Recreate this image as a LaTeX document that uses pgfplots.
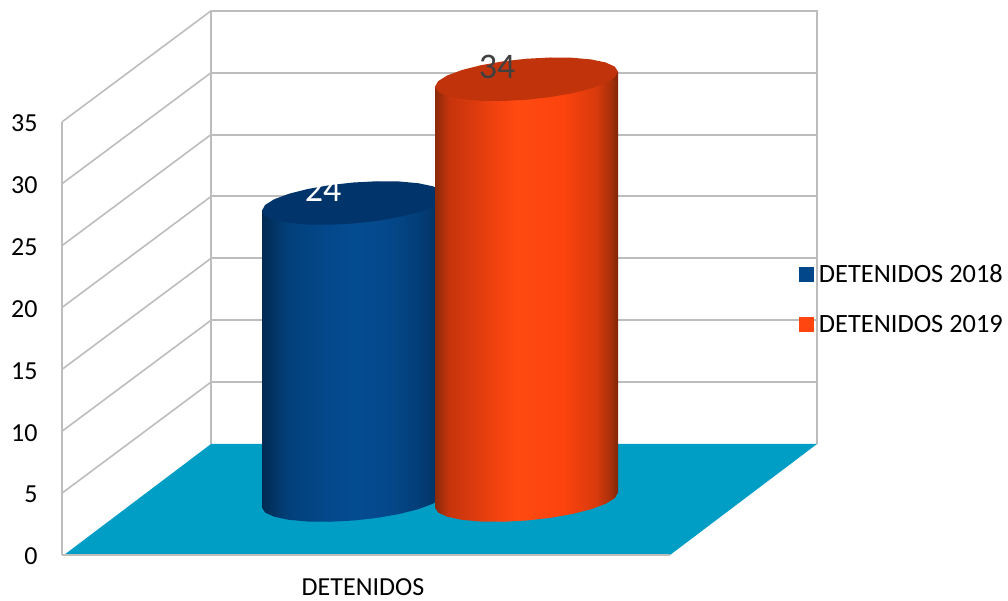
\documentclass[border=0pt]{standalone}
\usepackage{pgfplots}
\pgfplotsset{compat=1.18}
\usepackage{pgfplotstable}
\usepackage{fontspec}
\setmainfont{Carlito}
\definecolor{gridc}{HTML}{BDBDBD}
\definecolor{floorc}{HTML}{009DC4}
\definecolor{blueleg}{HTML}{03478B}
\definecolor{orangeleg}{HTML}{FF4510}
\definecolor{bluetop}{HTML}{01346A}
\definecolor{orangetop}{HTML}{C1340B}
\definecolor{labeldark}{HTML}{404040}
\definecolor{b0}{HTML}{012A52}\definecolor{b1}{HTML}{02407A}\definecolor{b2}{HTML}{03488A}
\definecolor{b3}{HTML}{044C90}\definecolor{b4}{HTML}{04488A}\definecolor{b5}{HTML}{033E78}\definecolor{b6}{HTML}{01305E}
\definecolor{o0}{HTML}{8A2A0A}\definecolor{o1}{HTML}{C8340C}\definecolor{o2}{HTML}{D93A0E}
\definecolor{o3}{HTML}{F5430F}\definecolor{o4}{HTML}{FF4A12}\definecolor{o5}{HTML}{FC430E}
\definecolor{o6}{HTML}{D83A0C}\definecolor{o7}{HTML}{A8300A}\definecolor{o8}{HTML}{7E2608}
\pgfdeclarehorizontalshading{cylb}{100bp}{color(0bp)=(b0);color(25bp)=(b0);color(32bp)=(b1);color(42.5bp)=(b2);color(50bp)=(b3);color(60bp)=(b4);color(67.5bp)=(b5);color(75bp)=(b6);color(100bp)=(b6)}
\pgfdeclarehorizontalshading{cylo}{100bp}{color(0bp)=(o0);color(25bp)=(o0);color(29bp)=(o1);color(35bp)=(o2);color(42.5bp)=(o3);color(47.5bp)=(o4);color(60bp)=(o5);color(69bp)=(o6);color(73bp)=(o7);color(75bp)=(o8);color(100bp)=(o8)}
% unit outline of a cylinder body: lower arc of the base, h=1 marks the top of the side
\pgfplotstableread{
u v h
-1 0 1
-1 0 0
-.966 -.259 0
-.866 -.5 0
-.707 -.707 0
-.5 -.866 0
-.259 -.966 0
0 -1 0
.259 -.966 0
.5 -.866 0
.707 -.707 0
.866 -.5 0
.966 -.259 0
1 0 0
1 0 1
}\bodyshape
\pgfplotstableread{
u v
-1 0
-.966 -.259
-.866 -.5
-.707 -.707
-.5 -.866
-.259 -.966
0 -1
.259 -.966
.5 -.866
.707 -.707
.866 -.5
.966 -.259
1 0
.966 .259
.866 .5
.707 .707
.5 .866
.259 .966
0 1
-.259 .966
-.5 .866
-.707 .707
-.866 .5
-.966 .259
}\topshape
\def\valA{24}
\def\valB{34}
\def\cxA{353.5}
\def\cxB{526.5}
\def\rad{91.5}
\def\base{4.444}
\begin{document}
\begin{tikzpicture}
\useasboundingbox (0,0) rectangle (1008pt,600pt);
\begin{axis}[
  at={(62pt,45pt)},anchor=south west,
  scale only axis,width=946pt,height=555pt,
  xmin=62,xmax=1008,ymin=0,ymax=44.848,
  clip=false,
  axis line style={draw=none},
  major tick length=0pt,
  ytick={0,5,...,35},
  xtick={363},xticklabels={DETENIDOS},
  tick label style={font=\fontsize{26}{30}\selectfont,text=black},
  /pgf/number format/assume math mode=true,
  yticklabel style={xshift=-21pt,yshift=-1.5pt},
  xticklabel style={yshift=-20pt},
  legend style={draw=none,fill=none,at={(0.779,0.461)},anchor=west,inner sep=0pt,outer sep=0pt,
    font=\fontsize{26.4}{30}\selectfont,row sep=27.5pt,
    legend cell align=left},
]
\addlegendimage{legend image code/.code={\path[draw=none,fill=none] (0pt,0pt) -- (18pt,0pt);\fill[blueleg,draw=none] (0pt,-7.5pt) rectangle (15pt,7.5pt);}}
\addlegendentry{DETENIDOS 2018}
\addlegendimage{legend image code/.code={\path[draw=none,fill=none] (0pt,0pt) -- (18pt,0pt);\fill[orangeleg,draw=none] (0pt,-7.5pt) rectangle (15pt,7.5pt);}}
\addlegendentry{DETENIDOS 2019}
% walls
\addplot[forget plot,gridc,line width=2pt] coordinates {(62,0)(62,35)};
\addplot[forget plot,gridc,line width=1.6pt] coordinates {(62,35)(211,43.97)};
\addplot[forget plot,gridc,line width=2pt] coordinates {(211,43.97)(817,43.97)(817,8.97)};
\addplot[forget plot,gridc,line width=2.2pt] coordinates {(211,8.97)(211,43.97)};
\addplot[forget plot,gridc,line width=1.6pt] coordinates {(62,30)(211,38.97)};
\addplot[forget plot,gridc,line width=1.6pt] coordinates {(62,25)(211,33.97)};
\addplot[forget plot,gridc,line width=1.6pt] coordinates {(62,20)(211,28.97)};
\addplot[forget plot,gridc,line width=1.6pt] coordinates {(62,15)(211,23.97)};
\addplot[forget plot,gridc,line width=1.6pt] coordinates {(62,10)(211,18.97)};
\addplot[forget plot,gridc,line width=1.6pt] coordinates {(62,5)(211,13.97)};
\addplot[forget plot,gridc,line width=2pt] coordinates {(211,38.97)(817,38.97)};
\addplot[forget plot,gridc,line width=2pt] coordinates {(211,33.97)(817,33.97)};
\addplot[forget plot,gridc,line width=2pt] coordinates {(211,28.97)(817,28.97)};
\addplot[forget plot,gridc,line width=2pt] coordinates {(211,23.97)(817,23.97)};
\addplot[forget plot,gridc,line width=2pt] coordinates {(211,18.97)(817,18.97)};
\addplot[forget plot,gridc,line width=2pt] coordinates {(211,13.97)(817,13.97)};
% floor
\addplot[forget plot,draw=none,fill=floorc] coordinates {(64,0)(211,8.97)(817,8.97)(670,0)} -- cycle;
\addplot[forget plot,gridc,line width=2pt] coordinates {(62,0)(670,0)};
% 2018
\addplot[forget plot,draw=none,shading=cylb] table[
  x expr={\cxA+\rad*\thisrow{u}},
  y expr={\base+\valA*\thisrow{h}+0.606*\thisrow{u}+1.657*\thisrow{v}}] {\bodyshape} -- cycle;
\addplot[forget plot,draw=none,fill=bluetop] table[
  x expr={\cxA+\rad*\thisrow{u}},
  y expr={\base+\valA+0.606*\thisrow{u}+1.657*\thisrow{v}}] {\topshape} -- cycle;
% 2019
\addplot[forget plot,draw=none,shading=cylo] table[
  x expr={\cxB+\rad*\thisrow{u}},
  y expr={\base+\valB*\thisrow{h}+0.606*\thisrow{u}+1.657*\thisrow{v}}] {\bodyshape} -- cycle;
\addplot[forget plot,draw=none,fill=orangetop] table[
  x expr={\cxB+\rad*\thisrow{u}},
  y expr={\base+\valB+0.606*\thisrow{u}+1.657*\thisrow{v}}] {\topshape} -- cycle;
\node[text=white,font=\fontsize{36}{40}\selectfont,inner sep=0pt] at (axis cs:323,29.5) {24};
\node[text=labeldark,font=\fontsize{36}{40}\selectfont,inner sep=0pt] at (axis cs:497,39.4) {34};
\end{axis}
\end{tikzpicture}
\end{document}
